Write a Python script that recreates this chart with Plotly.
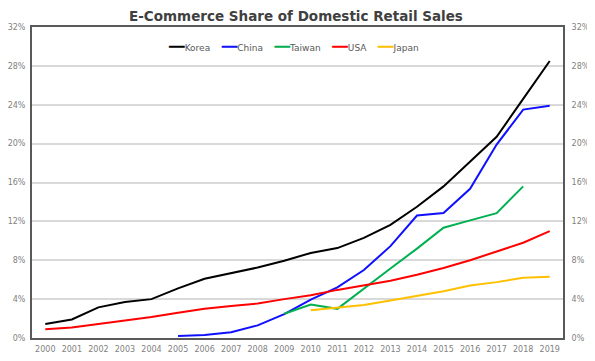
import plotly.graph_objects as go

years = [str(y) for y in range(2000, 2020)]

korea = [1.45, 1.9, 3.15, 3.7, 4.0, 5.1, 6.1, 6.7, 7.25, 7.95, 8.75, 9.25, 10.3, 11.65, 13.5, 15.6, 18.1, 20.7, 24.6, 28.5]
china = [None, None, None, None, None, 0.2, 0.32, 0.6, 1.3, 2.45, 3.95, 5.2, 7.0, 9.45, 12.6, 12.85, 15.35, 19.9, 23.5, 23.9]
taiwan = [None] * 9 + [2.5, 3.45, 3.0, 5.1, 7.15, 9.2, 11.35, 12.1, 12.85, 15.6, None]
usa = [0.9, 1.07, 1.45, 1.82, 2.15, 2.6, 3.0, 3.3, 3.55, 4.0, 4.4, 4.95, 5.4, 5.9, 6.5, 7.2, 8.0, 8.9, 9.8, 11.0]
japan = [None] * 10 + [2.85, 3.15, 3.4, 3.85, 4.35, 4.8, 5.4, 5.75, 6.2, 6.3]

names = ["Korea", "China", "Taiwan", "USA", "Japan"]
series = [korea, china, taiwan, usa, japan]
colors = ["#000000", "#1010FF", "#00B050", "#FF0000", "#FFC000"]

y_ticks = list(range(0, 33, 4))
y_ticktext = [f"{v}%" for v in y_ticks]

FONT = "DejaVu Sans"
TICK_FONT = dict(family=FONT, size=8, color="#7F7F7F")

fig = go.Figure()
for name, vals, col in zip(names, series, colors):
    fig.add_trace(go.Scatter(
        x=years, y=vals, name=name, mode="lines",
        line=dict(color=col, width=2), connectgaps=False, showlegend=False,
    ))

# empty trace to show the mirrored right axis
fig.add_trace(go.Scatter(x=[], y=[], yaxis="y2", showlegend=False, hoverinfo="skip"))

legend_text = "\u00a0\u00a0\u00a0\u00a0".join(
    f"<span style='color:{c};font-size:13px'>━━</span>{n}" for n, c in zip(names, colors)
)

# the page body adds an 8px offset, so the figure is sized to fit the window
fig.update_layout(
    width=587, height=353,
    margin=dict(l=24, r=32, t=19, b=23),
    paper_bgcolor="white", plot_bgcolor="white",
    title=dict(
        text="E-Commerce Share of Domestic Retail Sales",
        x=0.4906, xanchor="center", y=0.976, yanchor="middle",
        font=dict(family=FONT, size=13.5, color="#404040", weight="bold"),
    ),
    xaxis=dict(
        type="category", range=[-0.5, 19.5], automargin=False,
        showgrid=False, zeroline=False,
        showline=True, linecolor="#595959", linewidth=2, mirror=True,
        ticks="outside", ticklen=2, tickcolor="rgba(0,0,0,0)",
        tickfont=TICK_FONT, tickangle=0,
    ),
    yaxis=dict(
        range=[0, 32], tickvals=y_ticks, ticktext=y_ticktext, automargin=False,
        showgrid=True, gridcolor="#D9D9D9", gridwidth=1.5, zeroline=False,
        showline=True, linecolor="#595959", linewidth=2, mirror=True,
        ticks="outside", ticklen=3, tickcolor="rgba(0,0,0,0)",
        tickfont=TICK_FONT,
    ),
    yaxis2=dict(
        overlaying="y", side="right", range=[0, 32], automargin=False,
        tickvals=y_ticks, ticktext=y_ticktext,
        showgrid=False, zeroline=False, showline=False,
        ticks="outside", ticklen=6, tickcolor="rgba(0,0,0,0)",
        tickfont=TICK_FONT,
    ),
    annotations=[dict(
        text=legend_text, xref="paper", yref="paper",
        x=0.4925, y=0.938, xanchor="center", yanchor="middle",
        showarrow=False, font=dict(family=FONT, size=9, color="#595959"),
    )],
)

fig.write_html("out.html")
